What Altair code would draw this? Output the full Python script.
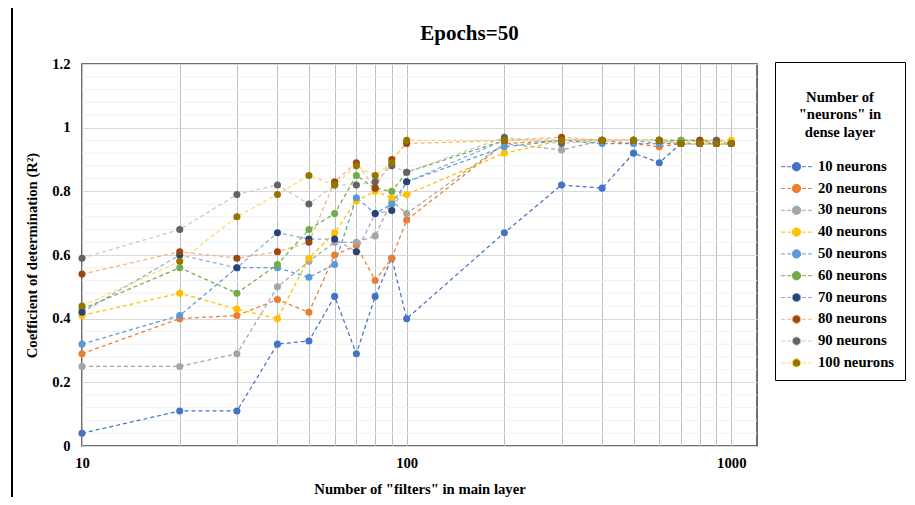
import altair as alt
import pandas as pd

# ---------------- data ----------------
filters = [10, 20, 30, 40, 50, 60, 70, 80, 90, 100, 200, 300, 400, 500, 600, 700, 800, 900, 1000]

series_names = ["10 neurons", "20 neurons", "30 neurons", "40 neurons", "50 neurons",
                "60 neurons", "70 neurons", "80 neurons", "90 neurons", "100 neurons"]

n10 = [0.04, 0.11, 0.11, 0.32, 0.33, 0.47, 0.29, 0.47, 0.59, 0.40, 0.67, 0.82, 0.81, 0.92, 0.89, 0.95, 0.95, 0.95, 0.95]
n20 = [0.29, 0.40, 0.41, 0.46, 0.42, 0.60, 0.63, 0.52, 0.59, 0.71, 0.95, 0.96, 0.96, 0.95, 0.94, 0.95, 0.95, 0.95, 0.95]
n30 = [0.25, 0.25, 0.29, 0.50, 0.58, 0.64, 0.64, 0.66, 0.77, 0.73, 0.95, 0.93, 0.96, 0.96, 0.95, 0.96, 0.96, 0.96, 0.95]
n40 = [0.41, 0.48, 0.43, 0.40, 0.59, 0.67, 0.77, 0.80, 0.78, 0.79, 0.92, 0.96, 0.96, 0.96, 0.96, 0.96, 0.96, 0.96, 0.96]
n50 = [0.32, 0.41, 0.56, 0.56, 0.53, 0.57, 0.78, 0.73, 0.76, 0.83, 0.94, 0.96, 0.95, 0.95, 0.95, 0.95, 0.95, 0.95, 0.95]
n60 = [0.43, 0.56, 0.48, 0.57, 0.68, 0.73, 0.85, 0.81, 0.80, 0.86, 0.96, 0.96, 0.96, 0.96, 0.96, 0.96, 0.96, 0.95, 0.95]
n70 = [0.42, 0.60, 0.56, 0.67, 0.65, 0.65, 0.61, 0.73, 0.74, 0.83, 0.96, 0.96, 0.96, 0.96, 0.96, 0.95, 0.95, 0.95, 0.95]
n80 = [0.54, 0.61, 0.59, 0.61, 0.64, 0.83, 0.89, 0.81, 0.90, 0.95, 0.96, 0.97, 0.96, 0.96, 0.96, 0.95, 0.96, 0.95, 0.95]
n90 = [0.59, 0.68, 0.79, 0.82, 0.76, 0.82, 0.82, 0.83, 0.88, 0.86, 0.97, 0.95, 0.96, 0.96, 0.96, 0.95, 0.95, 0.96, 0.95]
n100 = [0.44, 0.58, 0.72, 0.79, 0.85, 0.82, 0.88, 0.85, 0.89, 0.96, 0.96, 0.96, 0.96, 0.96, 0.96, 0.95, 0.95, 0.95, 0.95]

all_series = [n10, n20, n30, n40, n50, n60, n70, n80, n90, n100]

marker_colors = ["#4472C4", "#ED7D31", "#A5A5A5", "#FFC000", "#5B9BD5",
                 "#70AD47", "#264478", "#9E480E", "#636363", "#997300"]
line_colors = ["#4472C4", "#ED7D31", "#A5A5A5", "#FFC000", "#5B9BD5",
               "#70AD47", "#8EA9DB", "#F4B183", "#C9C9C9", "#FFD966"]

y_major = [0, 0.2, 0.4, 0.6, 0.8, 1.0, 1.2]
y_minor = [0.04, 0.08, 0.12, 0.16, 0.24, 0.28, 0.32, 0.36, 0.44, 0.48, 0.52, 0.56,
           0.64, 0.68, 0.72, 0.76, 0.84, 0.88, 0.92, 0.96, 1.04, 1.08, 1.12, 1.16]

rows = []
for name, vals in zip(series_names, all_series):
    for f, v in zip(filters, vals):
        rows.append({"filters": f, "r2": v, "series": name})
df = pd.DataFrame(rows)
minor_df = pd.DataFrame({"r2": y_minor})

FONT = "Liberation Serif"
legend_title = [" ", "Number of", "\"neurons\" in", "dense layer"]
sym_path = ("M -1.4 0 L -1.05 0 M -0.85 0 L -0.5 0 M 0.5 0 L 0.85 0 M 1.05 0 L 1.4 0 "
            "M -0.38 0 A 0.38 0.38 0 1 1 0.38 0 A 0.38 0.38 0 1 1 -0.38 0 Z")

legend_common = dict(
    title=legend_title, symbolType=sym_path, symbolSize=484, symbolStrokeWidth=1,
    symbolOpacity=1, orient="none", legendX=693, legendY=-2,
)

x_scale = alt.Scale(type="log", domain=[10, 1200], nice=False)
y_scale = alt.Scale(domain=[0, 1.2], nice=False)

x_axis = alt.Axis(
    values=filters, title="Number of \"filters\" in main layer",
    labelExpr="indexof([10, 100, 1000], datum.value) >= 0 ? datum.label : ''",
    format="d", grid=True, gridColor="#BFBFBF", gridWidth=1, ticks=False, domain=False,
    labelPadding=9, titlePadding=12, labelFlush=False, labelOverlap=False,
)
y_axis = alt.Axis(
    values=y_major, title="Coefficient of determination (R²)", format=".1~f",
    grid=True, gridColor="#D9D9D9", gridWidth=1, ticks=False, domain=False,
    labelPadding=12, titlePadding=12,
)

minor = alt.Chart(minor_df).mark_rule(color="#F0F0F0", strokeWidth=1).encode(
    y=alt.Y("r2:Q", scale=y_scale, axis=y_axis)
)

lines = alt.Chart(df).mark_line(strokeDash=[4, 3], strokeWidth=1.25).encode(
    x=alt.X("filters:Q", scale=x_scale, axis=x_axis),
    y=alt.Y("r2:Q", scale=y_scale, axis=y_axis),
    stroke=alt.Stroke("series:N", scale=alt.Scale(domain=series_names, range=line_colors),
                      sort=series_names, legend=alt.Legend(**legend_common)),
    detail="series:N",
)

points = alt.Chart(df).mark_point(filled=True, size=50, opacity=1, strokeWidth=0).encode(
    x=alt.X("filters:Q", scale=x_scale, axis=x_axis),
    y=alt.Y("r2:Q", scale=y_scale, axis=y_axis),
    fill=alt.Fill("series:N", scale=alt.Scale(domain=series_names, range=marker_colors),
                  sort=series_names, legend=alt.Legend(**legend_common)),
)

# outer chart-area border on the left side (decorative frame)
frame = alt.Chart(minor_df).mark_rule(color="black", strokeWidth=1.5).encode(
    x=alt.value(-70), y=alt.value(-64), y2=alt.value(441)
)

chart = alt.layer(minor, lines, points, frame).properties(
    width=675, height=382,
    autosize=alt.AutoSizeParams(type="none"),
    padding={"left": 74, "top": 56, "right": 150, "bottom": 51},
    title=alt.Title("Epochs=50", fontSize=21, font=FONT, fontWeight="bold",
                    anchor="middle", dx=50, dy=59, offset=14, color="black"),
).configure_view(
    stroke="#404040", strokeWidth=1.5
).configure_axis(
    labelFont=FONT, labelFontSize=14.7, labelFontWeight="bold", labelColor="black",
    titleFont=FONT, titleFontSize=14.7, titleFontWeight="bold", titleColor="black",
).configure_legend(
    strokeColor="black", strokeWidth=1, padding=10, fillColor="white",
    titleFont=FONT, titleFontSize=14.7, titleFontWeight="bold", titleColor="black",
    titleAlign="center", titleAnchor="middle", titleLineHeight=17.5, titlePadding=16,
    labelFont=FONT, labelFontSize=14.7, labelFontWeight="bold", labelColor="black",
    labelOffset=10, rowPadding=2.8,
)

chart.save("out.html", embed_options={"renderer": "svg", "actions": False})
